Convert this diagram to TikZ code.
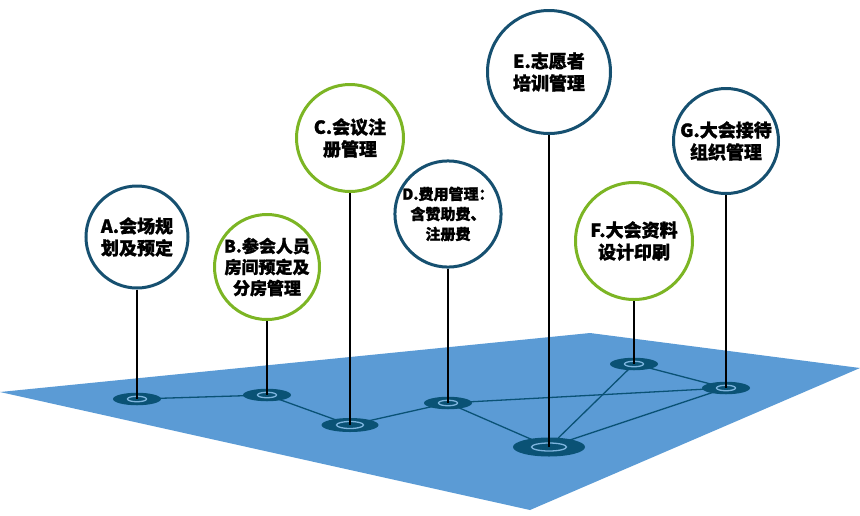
\documentclass[tikz,border=0pt]{standalone}
\usepackage{fontspec}
\newfontfamily\cjk{Noto Sans CJK SC}[BoldFeatures={FakeBold=1.3}]
\usetikzlibrary{shapes.geometric}

\definecolor{planeblue}{RGB}{91,155,213}
\definecolor{padblue}{RGB}{10,82,117}
\definecolor{ringblue}{RGB}{22,80,112}
\definecolor{ringgreen}{RGB}{124,181,36}
\definecolor{holeblue}{RGB}{125,180,222}

\begin{document}
\begin{tikzpicture}[
  x=1pt, y=-1pt,
  every node/.style={font=\cjk\bfseries\fontsize{18}{22}\selectfont},
  pad/.style={ellipse, fill=padblue, inner sep=0pt,
              minimum width=48pt, minimum height=12.5pt},
  hole/.style={ellipse, draw=holeblue, line width=1.3pt, inner sep=0pt,
               minimum width=19pt, minimum height=5.5pt},
  link/.style={padblue, line width=1.3pt},
  stem/.style={black, line width=1.3pt},
  bubble/.style={circle, draw=ringblue, line width=3pt, fill=white,
                 align=center, inner sep=0pt, minimum size=102pt},
  gbubble/.style={bubble, draw=ringgreen},
]
\useasboundingbox (0,0) rectangle (860,515);

% floor
\fill[planeblue] (0,392) -- (590,333) -- (860,368) -- (530,510) -- cycle;

% pad positions
\coordinate (pA) at (137,399);
\coordinate (pB) at (267,395);
\coordinate (pC) at (350,425);
\coordinate (pD) at (448,403);
\coordinate (pE) at (549,447);
\coordinate (pF) at (634,364);
\coordinate (pG) at (726,388);

% links between pads
\draw[link] (pA) -- (pB) -- (pC) -- (pD) -- (pE) -- (pF) -- (pG) -- (pE);
\draw[link] (pD) -- (pG);

% pads with holes
\foreach \p in {pA,pB,pD,pF,pG}{
  \node[pad] (\p pad) at (\p) {};
  \node[hole] at (\p) {};
}
\node[pad, minimum width=57pt, minimum height=14pt] (pCpad) at (pC) {};
\node[hole, minimum width=27pt, minimum height=7pt] at (pC) {};
\node[pad, minimum width=72pt, minimum height=19pt] (pEpad) at (pE) {};
\node[hole, minimum width=35pt, minimum height=8pt] at (pE) {};

% bubbles
\node[bubble] (bA) at (137,237) {A.会场规\\划及预定};
\node[gbubble, minimum size=105pt, font=\cjk\bfseries\fontsize{17}{21}\selectfont]
  (bB) at (267,267) {B.参会人员\\房间预定及\\分房管理};
\node[gbubble, minimum size=107pt] (bC) at (350,138) {C.会议注\\册管理};
\node[bubble, minimum size=103pt, font=\cjk\bfseries\fontsize{15}{20}\selectfont]
  (bD) at (448,214) {D.费用管理：\\含赞助费、\\注册费};
\node[bubble, minimum size=123pt] (bE) at (549,72) {E.志愿者\\培训管理};
\node[gbubble, minimum size=117pt] (bF) at (634,241) {F.大会资料\\设计印刷};
\node[bubble, minimum size=105pt] (bG) at (726,141) {G.大会接待\\组织管理};

% stems
\foreach \b/\p in {bA/pA,bB/pB,bC/pC,bD/pD,bE/pE,bF/pF,bG/pG}
  \draw[stem] (\b.south) -- (\p);

\end{tikzpicture}
\end{document}
